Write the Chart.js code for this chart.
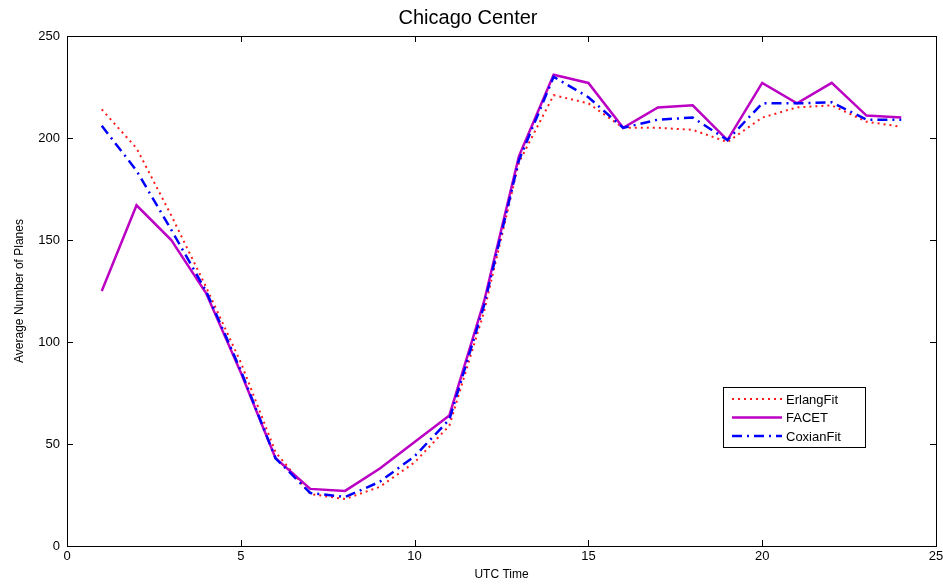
<!DOCTYPE html>
<html>
<head>
<meta charset="utf-8">
<script src="https://cdn.jsdelivr.net/npm/chart.js@4/dist/chart.umd.min.js"></script>
<style>
  html, body { margin: 0; padding: 0; background: #fff; }
  #wrap { width: 943px; height: 584px; }
</style>
</head>
<body>
<div id="wrap"><canvas id="Mychart"></canvas></div>
<script>
// hours (UTC) and the three series
const hours = [1, 2, 3, 4, 5, 6, 7, 8, 9, 10, 11, 12, 13, 14, 15, 16, 17, 18, 19, 20, 21, 22, 23, 24];
const erlangFit = [214, 195, 162, 127, 90, 46, 25.5, 23, 29, 41, 59, 115, 188, 221, 217, 205, 205, 204, 198, 210, 215, 216, 208, 205.5];
const facet = [125, 167, 150, 124, 85, 43, 28, 27, 38, 51, 64, 120, 191, 231, 227, 205, 215, 216, 199, 227, 217, 227, 211, 210];
const coxianFit = [206, 184, 155, 125, 86, 43, 26, 24, 31.5, 44, 62, 118, 189, 230, 220, 205, 209, 210, 199, 217, 217, 217.5, 209, 209];

const xTicks = [0, 5, 10, 15, 20, 25];
const yTicks = [0, 50, 100, 150, 200, 250];

const font = "'Liberation Sans', Arial, sans-serif";

function pts(vals) {
    return hours.map((h, i) => ({ x: h, y: vals[i] }));
}

// matlab style box with inward ticks on all four sides
const boxTicks = {
    id: 'boxTicks',
    afterDraw(chart) {
        const ctx = chart.ctx;
        const a = chart.chartArea;
        const xs = chart.scales.x, ys = chart.scales.y;
        ctx.save();
        ctx.strokeStyle = '#000';
        ctx.lineWidth = 1;
        ctx.beginPath();
        xTicks.forEach(v => {
            const px = Math.round(xs.getPixelForValue(v)) + 0.5;
            ctx.moveTo(px, a.bottom); ctx.lineTo(px, a.bottom - 6);
            ctx.moveTo(px, a.top); ctx.lineTo(px, a.top + 6);
        });
        yTicks.forEach(v => {
            const py = Math.round(ys.getPixelForValue(v)) + 0.5;
            ctx.moveTo(a.left, py); ctx.lineTo(a.left + 6, py);
            ctx.moveTo(a.right, py); ctx.lineTo(a.right - 6, py);
        });
        ctx.stroke();
        ctx.strokeRect(Math.round(a.left) + 0.5, Math.round(a.top) + 0.5,
            Math.round(a.right - a.left), Math.round(a.bottom - a.top));
        ctx.restore();
    }
};

// legend box inside the plot, lower right
const innerLegend = {
    id: 'innerLegend',
    afterDraw(chart) {
        const ctx = chart.ctx;
        const a = chart.chartArea;
        const bx = a.right - 213, by = a.bottom - 159, bw = 142, bh = 60;
        ctx.save();
        ctx.fillStyle = '#fff';
        ctx.fillRect(bx, by, bw, bh);
        ctx.strokeStyle = '#000';
        ctx.lineWidth = 1;
        ctx.strokeRect(bx + 0.5, by + 0.5, bw, bh);
        ctx.font = '13px ' + font;
        ctx.textBaseline = 'middle';
        chart.data.datasets.forEach((ds, i) => {
            const y = by + 12 + i * 18.5;
            ctx.strokeStyle = ds.borderColor;
            ctx.lineWidth = ds.borderWidth;
            ctx.setLineDash(ds.borderDash || []);
            ctx.beginPath();
            ctx.moveTo(bx + 9, y); ctx.lineTo(bx + 59, y);
            ctx.stroke();
            ctx.setLineDash([]);
            ctx.fillStyle = '#000';
            ctx.fillText(ds.label, bx + 63, y + 1);
        });
        ctx.restore();
    }
};

const canvas = document.getElementById('Mychart');
new Chart(canvas, {
    type: 'line',
    data: {
        datasets: [{
            label: 'ErlangFit',
            data: pts(erlangFit),
            borderColor: '#ff1a1a',
            borderWidth: 2,
            borderDash: [2, 4],
            pointRadius: 0,
            order: 3
        }, {
            label: 'FACET',
            data: pts(facet),
            borderColor: '#bb00c4',
            borderWidth: 2.5,
            pointRadius: 0,
            order: 2
        }, {
            label: 'CoxianFit',
            data: pts(coxianFit),
            borderColor: '#0000ff',
            borderWidth: 2.5,
            borderDash: [10, 5, 2, 5],
            pointRadius: 0,
            order: 1
        }]
    },
    options: {
        responsive: true,
        maintainAspectRatio: false,
        animation: false,
        layout: { padding: { left: 0, right: 7, top: 0, bottom: 0 } },
        plugins: {
            legend: { display: false },
            tooltip: { enabled: false },
            title: {
                display: true,
                text: 'Chicago Center',
                color: '#000',
                font: { family: font, size: 20, weight: 'normal' },
                padding: { top: 6, bottom: 6 }
            }
        },
        scales: {
            x: {
                type: 'linear',
                min: 0,
                max: 25,
                grid: { display: false, drawTicks: false },
                border: { display: false },
                afterBuildTicks(s) { s.ticks = xTicks.map(v => ({ value: v })); },
                afterFit(s) { s.height = 38; s.paddingRight = 0; s.paddingLeft = 0; },
                ticks: { color: '#000', font: { family: font, size: 13 }, padding: 3, maxRotation: 0 },
                title: {
                    display: true,
                    text: 'UTC Time',
                    color: '#000',
                    font: { family: font, size: 12 },
                    padding: { top: 0, bottom: 2 }
                }
            },
            y: {
                min: 0,
                max: 250,
                grid: { display: false, drawTicks: false },
                border: { display: false },
                afterBuildTicks(s) { s.ticks = yTicks.map(v => ({ value: v })); },
                afterFit(s) { s.width = 67; },
                ticks: { color: '#000', font: { family: font, size: 13 }, padding: 7 },
                title: {
                    display: true,
                    text: 'Average Number of Planes',
                    color: '#000',
                    font: { family: font, size: 12 },
                    padding: { top: 12, bottom: 0 }
                }
            }
        }
    },
    plugins: [boxTicks, innerLegend]
});
</script>
</body>
</html>
